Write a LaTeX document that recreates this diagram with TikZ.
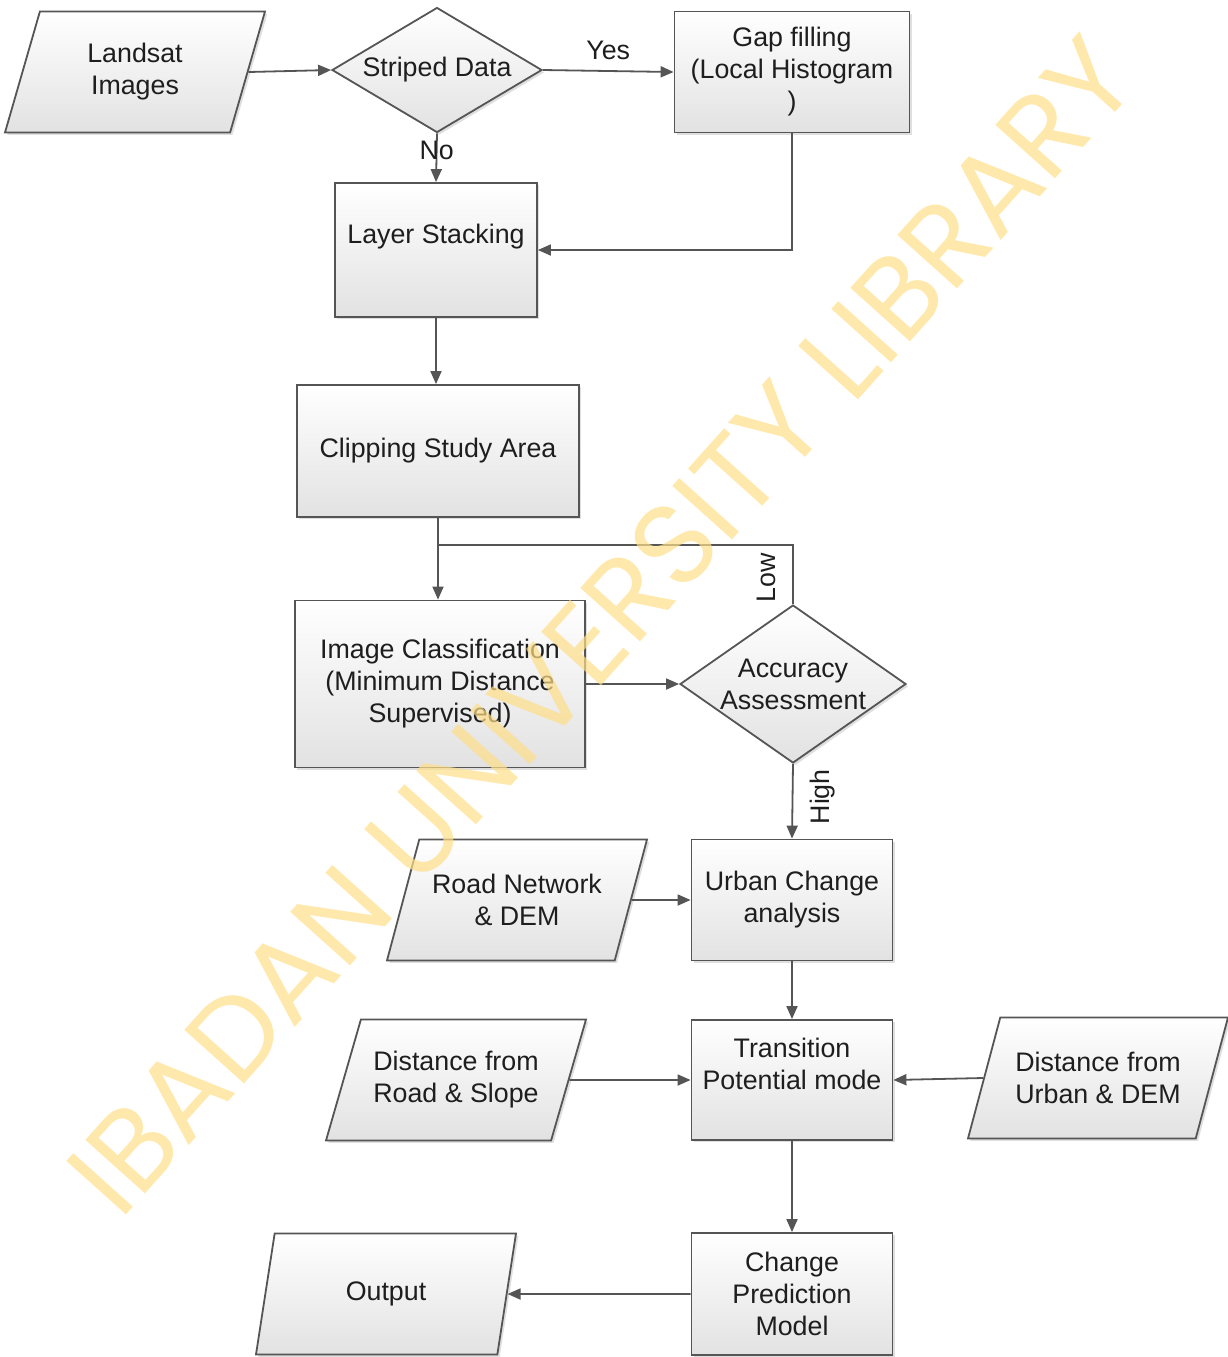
\documentclass[tikz,border=0pt]{standalone}
\usepackage{fontspec}
\setmainfont{Liberation Sans}
\newfontfamily\wmfont{Poppins}
\usetikzlibrary{shapes.geometric,arrows.meta,shadows,positioning}

\definecolor{linegray}{RGB}{85,85,85}
\definecolor{boxgray}{RGB}{226,226,226}
\definecolor{textgray}{RGB}{30,30,30}
\definecolor{wmyellow}{RGB}{255,222,135}

\begin{document}
\begin{tikzpicture}
  [x=0.5pt,y=-0.5pt,
   txt/.style={font=\fontsize{13.4}{16}\selectfont,text=textgray},
   shapeN/.style={txt,draw=linegray,line width=0.9pt,top color=white,bottom color=boxgray,
     drop shadow={shadow xshift=1.2pt,shadow yshift=-1.2pt,opacity=0.25},align=center},
   procN/.style={shapeN,rectangle,minimum width=100.5pt,minimum height=60.5pt},
   dataN/.style={shapeN,trapezium,trapezium left angle=63.6,trapezium right angle=116.4,
     trapezium stretches body,minimum width=130pt,minimum height=60.5pt,inner xsep=2pt},
   decN/.style={shapeN,diamond,inner sep=0pt},
   flow/.style={draw=linegray,line width=0.9pt,-{Triangle[length=6.5pt,width=5.5pt]}},
   link/.style={draw=linegray,line width=0.9pt}]

  \useasboundingbox (0,0) rectangle (1228,1357);

  % inputs and pre-processing
  \node[dataN] (landsat) at (135,72) {Landsat\\Images};
  \node[decN,aspect=1.7,minimum width=105pt,minimum height=62.5pt] (striped) at (437,70) {Striped Data};
  \node[procN,minimum width=117.5pt] (gapfill) at (792,72) {Gap filling\\(Local Histogram\\)};
  \node[procN,minimum width=101pt,minimum height=67pt] (layer) at (436,250) {Layer Stacking\\ \mbox{}};
  \node[procN,minimum width=141pt,minimum height=66pt] (clip) at (438,451) {Clipping Study Area};

  % classification
  \node[procN,minimum width=145pt,minimum height=83.5pt] (classif) at (440,684)
    {Image Classification\\(Minimum Distance\\Supervised)};
  \node[decN,aspect=1.43,inner sep=-4pt,minimum width=113pt,minimum height=79pt] (accuracy) at (793,684)
    {Accuracy\\Assessment};

  % change modelling
  \node[procN] (urban) at (792,900) {Urban Change\\analysis};
  \node[dataN] (road) at (517,900) {Road Network\\\& DEM};
  \node[procN,minimum height=60pt] (trans) at (792,1080) {Transition\\Potential mode\\ \mbox{}};
  \node[dataN] (distroad) at (456,1080) {Distance from\\Road \& Slope};
  \node[dataN] (disturban) at (1098,1078) {Distance from\\Urban \& DEM};
  \node[procN,minimum height=61pt] (change) at (792,1294) {Change\\Prediction\\Model};
  \node[dataN] (output) at (386,1294) {Output};

  \coordinate (lowjoin) at (clip.south |- 0,545);

  \draw[flow] (landsat.east) -- (striped.west);
  \draw[flow] (striped.east) -- node[txt,above=2pt] {Yes} (gapfill.west);
  \draw[flow] (striped.south) -- node[txt,pos=0.35] {No} (layer.north);
  \draw[flow] (gapfill.south) |- (layer.east);
  \draw[flow] (layer.south) -- (layer.south |- clip.north);
  \draw[flow] (clip.south) -- (clip.south |- classif.north);
  \draw[link] (accuracy.north) -- node[txt,pos=0.45,xshift=-13.5pt,rotate=90] {Low} (accuracy.north |- lowjoin) -- (lowjoin);
  \draw[flow] (classif.east) -- (accuracy.west);
  \draw[flow] (accuracy.south) -- node[txt,pos=0.44,xshift=15pt,rotate=90] {High} (urban.north);
  \draw[flow] (road.east) -- (urban.west);
  \draw[flow] (urban) -- (trans);
  \draw[flow] (distroad.east) -- (trans.west);
  \draw[flow] (disturban.west) -- (trans.east);
  \draw[flow] (trans) -- (change);
  \draw[flow] (change.west) -- (output.east);

  % watermark
  \node[font=\wmfont\fontsize{57.5}{62}\selectfont,text=wmyellow,text opacity=0.7,rotate=48.1]
    (stamp) at (601,626) {IBADAN UNIVERSITY LIBRARY};

\end{tikzpicture}
\end{document}
